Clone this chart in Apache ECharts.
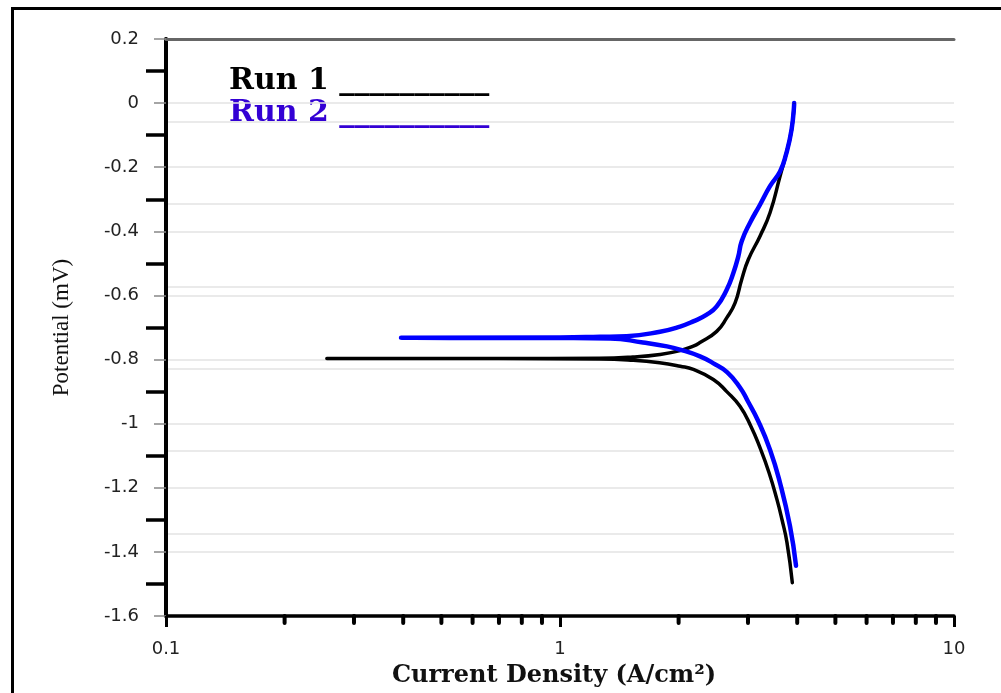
<!DOCTYPE html>
<html>
<head>
<meta charset="utf-8">
<script src="https://cdn.jsdelivr.net/npm/echarts@6/dist/echarts.min.js"></script>
<style>
html,body{margin:0;padding:0;background:#fff;}
#chart{width:1001px;height:693px;}
</style>
</head>
<body>
<div id="chart"></div>
<script>
// Run 1 (black): from bottom of cathodic branch, to the left end, then up the anodic branch
const run1Current = [3.887, 3.768, 3.659, 3.554, 3.393, 3.218, 3.053, 2.863, 2.65, 2.45, 2.18, 2.02, 1.79, 1.53, 1.26, 0.70, 0.40, 0.256,
                     0.40, 0.70, 1.26, 1.53, 1.794, 2.017, 2.179, 2.266, 2.499, 2.649, 2.782, 2.892, 3.006, 3.218, 3.412, 3.618, 3.747, 3.87, 3.93];
const run1Potential = [-1.496, -1.371, -1.299, -1.237, -1.153, -1.075, -1.009, -0.946, -0.900, -0.862, -0.831, -0.821, -0.810, -0.802, -0.798, -0.797, -0.797, -0.797,
                       -0.797, -0.797, -0.796, -0.792, -0.784, -0.772, -0.758, -0.747, -0.712, -0.670, -0.623, -0.550, -0.488, -0.415, -0.342, -0.228, -0.16, -0.083, 0.0];
// Run 2 (blue)
const run2Current = [3.972, 3.835, 3.618, 3.412, 3.18, 3.0, 2.863, 2.654, 2.445, 2.266, 2.017, 1.869, 1.624, 1.34, 1.0, 0.395,
                     1.0, 1.263, 1.476, 1.794, 2.017, 2.179, 2.357, 2.499, 2.649, 2.754, 2.835, 2.892, 3.034, 3.218, 3.412, 3.618, 3.747, 3.87, 3.93];
const run2Potential = [-1.443, -1.32, -1.185, -1.081, -0.990, -0.931, -0.887, -0.839, -0.811, -0.790, -0.769, -0.759, -0.747, -0.734, -0.733, -0.732,
                       -0.731, -0.729, -0.727, -0.713, -0.697, -0.681, -0.660, -0.634, -0.582, -0.530, -0.478, -0.431, -0.374, -0.317, -0.259, -0.213, -0.16, -0.083, 0.0];
// minor tick positions on the log x axis
const xMinorTicks = [0.2, 0.3, 0.4, 0.5, 0.6, 0.7, 0.8, 0.9, 2, 3, 4, 5, 6, 7, 8, 9];
const legendLabels = ['Run 1 __________', 'Run 2 __________'];
const xTitle = 'Current Density (A/cm²)';
const yTitle = 'Potential (mV)';

function zip(xs, ys) { return xs.map((x, i) => [x, ys[i]]); }

const chart = echarts.init(document.getElementById('chart'), null, {renderer: 'canvas'});
const gridColor = '#e3e3e3';
const option = {
  animation: false,
  backgroundColor: '#fff',
  grid: {left: 166, right: 47, top: 39, bottom: 77},
  xAxis: [{
    type: 'log', logBase: 10, min: 0.1, max: 10,
    name: xTitle, nameLocation: 'middle', nameGap: 48,
    nameTextStyle: {fontFamily: 'DejaVu Serif', fontWeight: 'bold', fontSize: 24, color: '#111', padding: [0, 12, 0, 0]},
    axisLine: {show: true, onZero: false, lineStyle: {color: '#000', width: 3.5}},
    axisTick: {show: true, length: 11, lineStyle: {color: '#000', width: 3}},
    minorTick: {show: false},
    splitLine: {show: false},
    axisLabel: {margin: 24, fontFamily: 'DejaVu Sans', fontSize: 18, color: '#222',
      formatter: v => String(Math.round(v * 100) / 100)}
  }, {
    type: 'value', position: 'top', min: 0, max: 1,
    axisLine: {show: true, onZero: false, lineStyle: {color: '#666', width: 3}},
    axisTick: {show: false}, axisLabel: {show: false}, splitLine: {show: false}
  }],
  yAxis: [{
    type: 'value', min: -1.6, max: 0.2, interval: 0.2,
    name: yTitle, nameLocation: 'middle', nameRotate: 90, nameGap: 93,
    nameTextStyle: {fontFamily: 'Liberation Serif', fontSize: 23, color: '#111'},
    axisLine: {show: true, onZero: false, lineStyle: {color: '#000', width: 3.5}},
    axisTick: {show: true, length: 12, lineStyle: {color: '#888', width: 1.5}},
    minorTick: {show: true, splitNumber: 2, length: 20, lineStyle: {color: '#000', width: 3.5}},
    splitLine: {show: true, lineStyle: {color: gridColor, width: 1.5}},
    axisLabel: {margin: 27, fontFamily: 'DejaVu Sans', fontSize: 18, color: '#222',
      formatter: v => String(Math.round(v * 10) / 10)}
  }, {
    type: 'value', position: 'right', min: 0, max: 7, interval: 1,
    axisLine: {show: true, lineStyle: {color: '#000', width: 4}},
    axisTick: {show: false}, axisLabel: {show: false},
    splitLine: {show: true, lineStyle: {color: gridColor, width: 1.5}}
  }],
  series: [{
    name: 'Run 1', type: 'line', xAxisIndex: 0, yAxisIndex: 0,
    data: zip(run1Current, run1Potential), showSymbol: false, smooth: 0.5,
    lineStyle: {color: '#000', width: 3.5, cap: 'round', join: 'round'}, z: 3
  }, {
    name: 'Run 2', type: 'line', xAxisIndex: 0, yAxisIndex: 0,
    data: zip(run2Current, run2Potential), showSymbol: false, smooth: 0.5,
    lineStyle: {color: '#0000ff', width: 4.5, cap: 'round', join: 'round'}, z: 4
  }, {
    name: 'minorTicks', type: 'custom', xAxisIndex: 0, yAxisIndex: 0, silent: true, clip: false,
    data: xMinorTicks.map(v => [v, -1.6]),
    renderItem: function (params, api) {
      const p = api.coord([api.value(0), api.value(1)]);
      return {type: 'line', shape: {x1: p[0], y1: p[1], x2: p[0], y2: p[1] + 7},
        style: {stroke: '#000', lineWidth: 4, lineCap: 'round'}};
    }, z: 5
  }],
  graphic: [
    {type: 'rect', left: 10, top: 6, silent: true,
     shape: {x: 0, y: 0, width: 1030, height: 730},
     style: {fill: 'none', stroke: '#000', lineWidth: 3}},
    {type: 'text', left: 229, top: 66, style: {text: legendLabels[0], font: 'bold 30px "DejaVu Serif"', fill: '#000'}},
    {type: 'text', left: 229, top: 98, style: {text: legendLabels[1], font: 'bold 30px "DejaVu Serif"', fill: '#3300d4'}}
  ]
};
chart.setOption(option);
</script>
</body>
</html>
